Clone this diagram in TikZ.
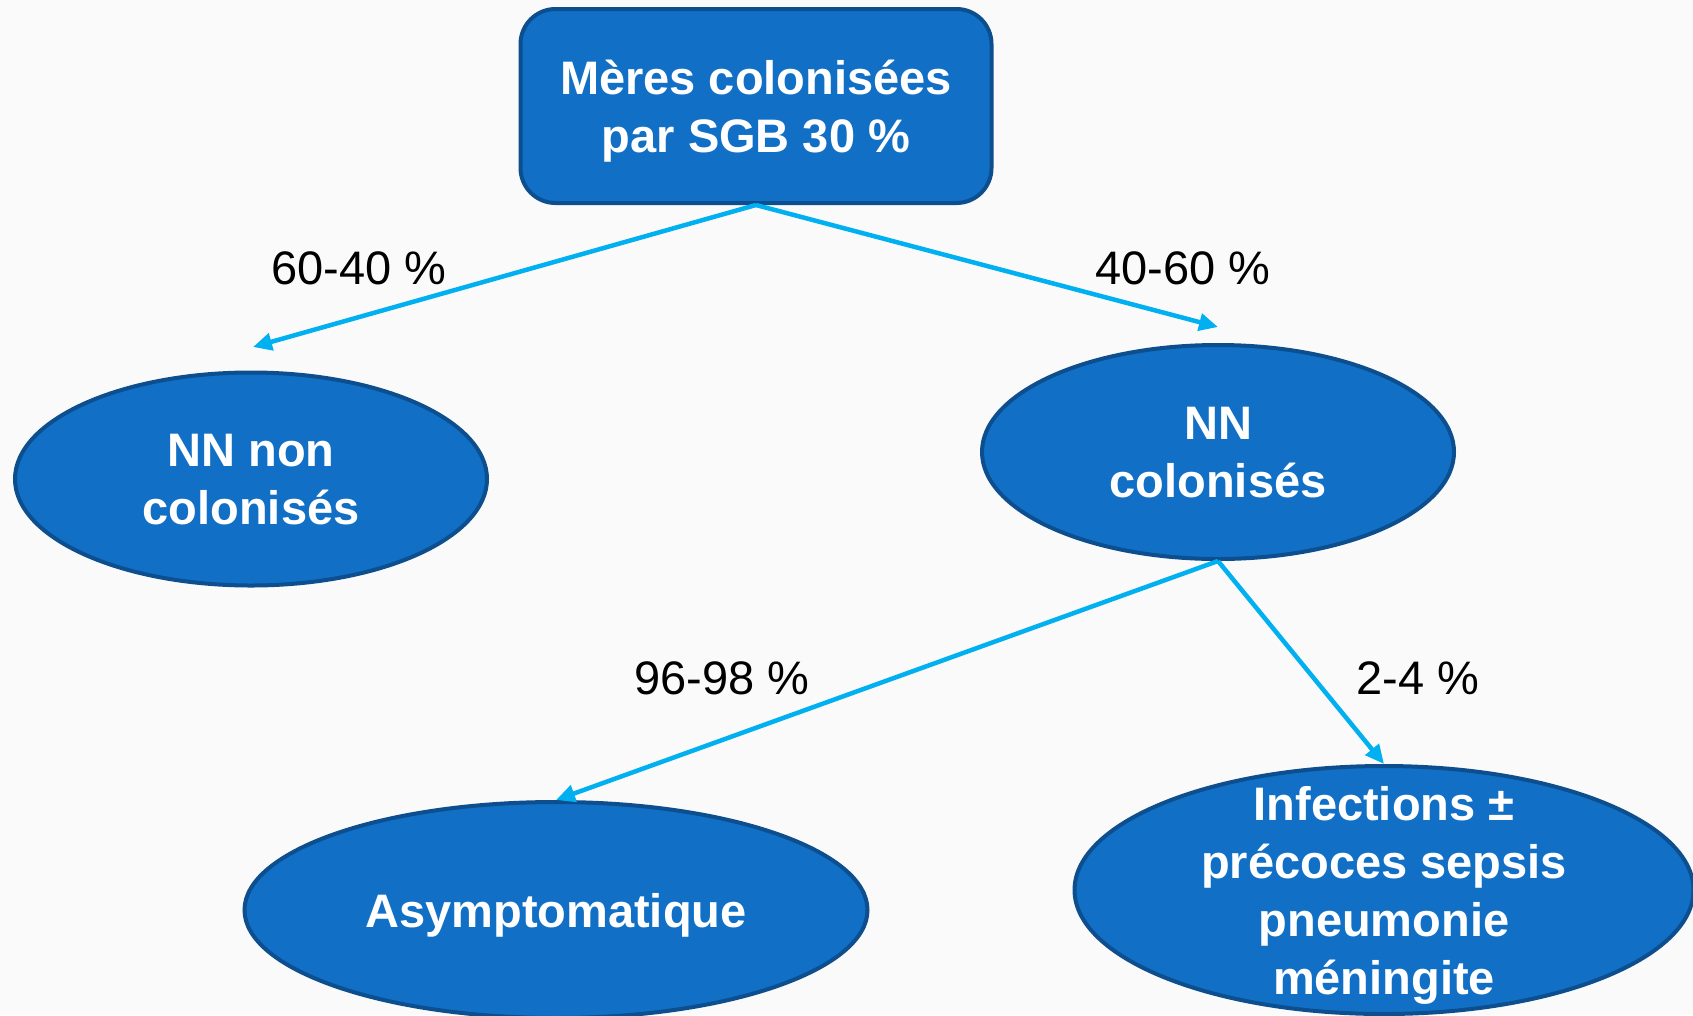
\documentclass[tikz,border=0pt]{standalone}
\usepackage{fontspec}
\setmainfont{Liberation Sans}
\usetikzlibrary{shapes.geometric, arrows.meta, positioning}

\definecolor{sgbblue}{RGB}{17,112,198}
\definecolor{sgbedge}{RGB}{12,78,142}
\definecolor{sgbcyan}{RGB}{0,176,240}
\definecolor{sgbback}{RGB}{250,250,250}

\begin{document}
\begin{tikzpicture}[
    x=1pt, y=-1pt,
    >={Triangle[length=19pt, width=17pt]},
    topbox/.style={rectangle, rounded corners=35pt, draw=sgbedge, line width=4pt, fill=sgbblue, text=white, align=center, text depth=0pt, minimum width=471pt, minimum height=194pt, font=\fontsize{47}{58}\selectfont\bfseries},
    oval/.style={ellipse, draw=sgbedge, line width=4pt, fill=sgbblue, text=white, align=center, text depth=0pt, inner sep=-100pt, font=\fontsize{47}{58}\selectfont\bfseries},
    pct/.style={text=black, font=\fontsize{47}{58}\selectfont},
    arrow/.style={->, line width=4.5pt, draw=sgbcyan}
]

\useasboundingbox[fill=sgbback] (0,0) rectangle (1693,1015);

% MOTHERS
\node[topbox] (meres) at (756,106) {Mères colonisées\\par SGB 30 \%};

% NEWBORNS
\node[oval, minimum width=472pt, minimum height=213pt] (nnnon) at (251,479) {NN non\\colonisés};
\node[oval, minimum width=472pt, minimum height=214pt] (nncol) at (1218,452) {NN\\colonisés};

% OUTCOMES
\node[oval, minimum width=623pt, minimum height=216pt] (asympto) at (556,910) {Asymptomatique};
\node[oval, minimum width=619pt, minimum height=248pt] (infect) at (1384,890) {Infections ±\\précoces sepsis\\pneumonie\\méningite};

% PERCENTAGES
\node[pct] (p6040) at (359,268) {60-40 \%};
\node[pct] (p4060) at (1183,268) {40-60 \%};
\node[pct] (p9698) at (722,678) {96-98 \%};
\node[pct] (p24) at (1418,678) {2-4 \%};

\coordinate (tipnon) at (253,347);
\coordinate (tipcol) at (1218,327);

\draw[arrow] (meres.south) -- (tipnon);
\draw[arrow] (meres.south) -- (tipcol);
\draw[arrow] (nncol.south) -- (asympto.north);
\draw[arrow] (nncol.south) -- (infect.north);

\end{tikzpicture}
\end{document}
